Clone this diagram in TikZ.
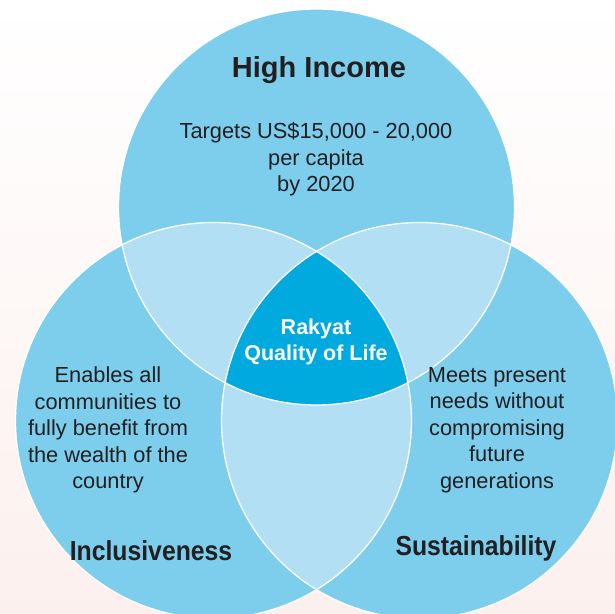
\documentclass[tikz,border=0pt]{standalone}
\usepackage{fontspec}
\setmainfont{Liberation Sans}
\newfontfamily\condfont[FakeStretch=0.9]{Liberation Sans}
\definecolor{circblue}{HTML}{7DCDEC}
\definecolor{pairblue}{HTML}{B2DFF3}
\definecolor{coreblue}{HTML}{00A9DE}
\definecolor{txtdark}{HTML}{231F20}
\definecolor{bgpink}{RGB}{252,240,238}
\tikzset{
  bodytext/.style={font=\fontsize{21.8}{26.5}\selectfont, text=txtdark, align=center, inner sep=0pt},
  headtext/.style={font=\fontsize{29}{34}\selectfont\bfseries, text=txtdark, inner sep=0pt},
  sidehead/.style={font=\condfont\fontsize{27.5}{32}\selectfont\bfseries, text=txtdark, inner sep=0pt},
  coretext/.style={font=\fontsize{21.5}{26}\selectfont\bfseries, text=white, align=center, inner sep=0pt},
  rim/.style={draw=white, line width=1.3pt},
}
\begin{document}
\begin{tikzpicture}[x=1pt,y=-1pt]
\useasboundingbox (0,0) rectangle (615,613);
\shade[top color=white, bottom color=bgpink] (0,0) rectangle (615,613);
\def\R{198pt}
\coordinate (T) at (316.5,207);
\coordinate (L) at (213.5,420.5);
\coordinate (Rc) at (419.5,420.5);
% circles
\fill[circblue] (T) circle[radius=\R];
\fill[circblue] (L) circle[radius=\R];
\fill[circblue] (Rc) circle[radius=\R];
% pairwise overlaps
\begin{scope}
  \clip (T) circle[radius=\R];
  \fill[pairblue] (L) circle[radius=\R];
  \fill[pairblue] (Rc) circle[radius=\R];
\end{scope}
\begin{scope}
  \clip (L) circle[radius=\R];
  \fill[pairblue] (Rc) circle[radius=\R];
\end{scope}
% core
\begin{scope}
  \clip (T) circle[radius=\R];
  \clip (L) circle[radius=\R];
  \fill[coreblue] (Rc) circle[radius=\R];
\end{scope}
% outlines
\draw[rim] (T) circle[radius=\R];
\draw[rim] (L) circle[radius=\R];
\draw[rim] (Rc) circle[radius=\R];
% texts
\node[headtext] (hi) at (319,70) {High Income};
\node[bodytext] (hitxt) at (316,159.5) {Targets US\$15,000 - 20,000\\per capita\\by 2020};
\node[coretext] (core) at (316,342) {Rakyat\\Quality of Life};
\node[bodytext] (inctxt) at (108,430) {Enables all\\communities to\\fully benefit from\\the wealth of the\\country};
\node[bodytext] (sustxt) at (497,430) {Meets present\\needs without\\compromising\\future\\generations};
\node[sidehead] (inc) at (151,551) {Inclusiveness};
\node[sidehead] (sus) at (476,548) {Sustainability};
\end{tikzpicture}
\end{document}
